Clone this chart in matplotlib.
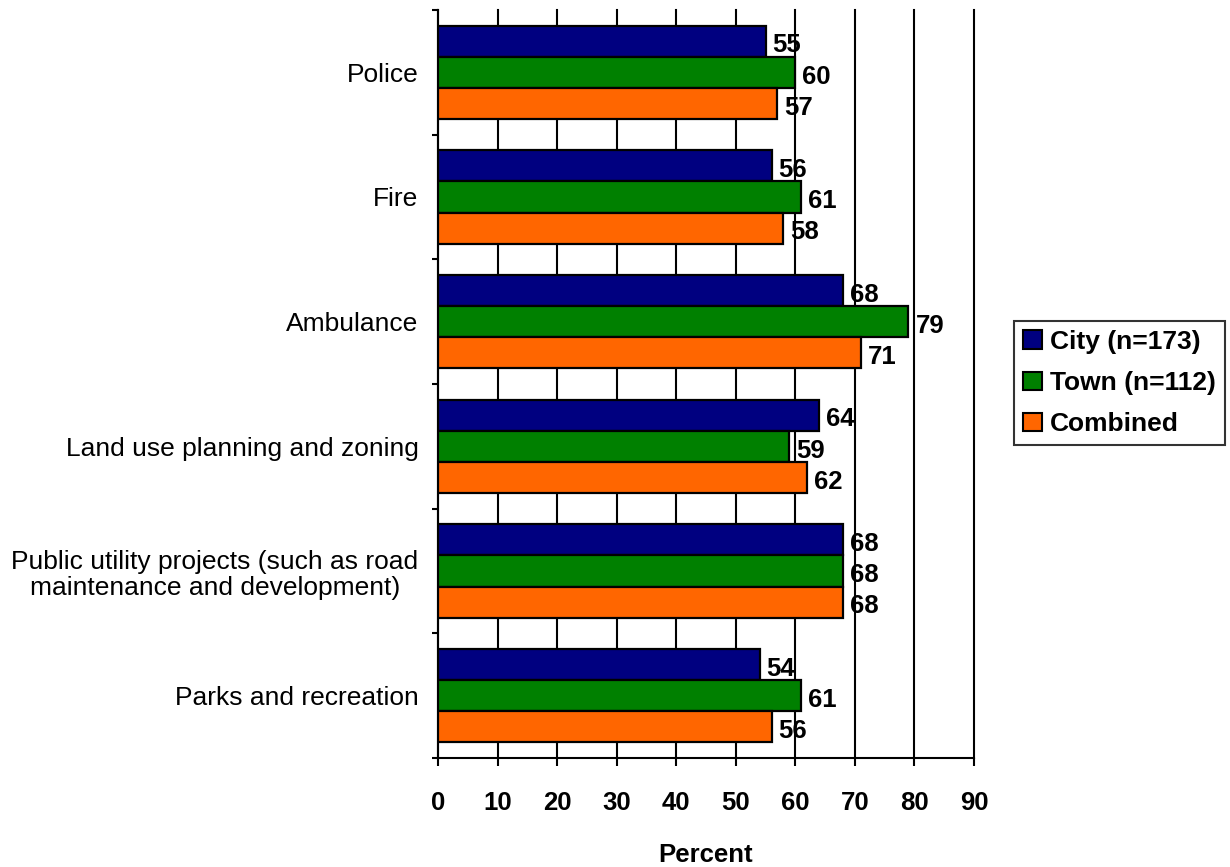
import numpy as np
import matplotlib.pyplot as plt
from matplotlib.ticker import FixedLocator

plt.rcParams['font.family'] = ['Liberation Sans', 'DejaVu Sans']

services = ["Police", "Fire", "Ambulance", "Land use planning and zoning",
            "Public utility projects (such as road\nmaintenance and development)",
            "Parks and recreation"]
city = [55, 56, 68, 64, 68, 54]
town = [60, 61, 79, 59, 68, 61]
combined = [57, 58, 71, 62, 68, 56]
series_names = ["City (n=173)", "Town (n=112)", "Combined"]
series_colors = ["#000080", "#008000", "#FF6600"]

fig = plt.figure(figsize=(12.3, 8.67), dpi=100)
ax = fig.add_axes([438 / 1230, 1 - 758 / 867, (974 - 438) / 1230, (758 - 10) / 867])

n = len(services)
centers = n - np.arange(n) - 0.5
h = 0.25
for k, (vals, name, col) in enumerate(zip([city, town, combined], series_names, series_colors)):
    ypos = centers + h * (1 - k)
    ax.barh(ypos, vals, height=h, color=col, edgecolor="black", linewidth=1.6,
            label=name, zorder=3)
    for y, v in zip(ypos, vals):
        ax.annotate(str(v), (v, y), xytext=(5, -3), textcoords="offset points",
                    ha="left", va="center", fontsize=18.5, fontweight="bold", zorder=4)

ax.set_xlim(0, 90)
ax.set_ylim(0, n)
ax.set_xticks(np.arange(0, 91, 10))
ax.xaxis.grid(True, color="black", linewidth=1.5, zorder=0)
for gl in ax.get_xgridlines():
    gl.set_clip_on(False)
ax.set_axisbelow(True)

ax.set_yticks(centers)
ax.set_yticklabels(services, fontsize=19, multialignment="center", linespacing=1.15)
ax.tick_params(axis="y", length=0, pad=14)
ax.yaxis.set_minor_locator(FixedLocator(np.arange(0, n + 1)))
ax.tick_params(axis="y", which="minor", length=4.5, width=1.5, direction="out")

ax.tick_params(axis="x", length=6, width=1.5, direction="out", pad=18, labelsize=18.5)
for t in ax.get_xticklabels():
    t.set_fontweight("bold")

for side in ["top", "right"]:
    ax.spines[side].set_visible(False)
for side in ["left", "bottom"]:
    ax.spines[side].set_linewidth(1.5)

ax.set_xlabel("Percent", fontsize=18.5, fontweight="bold", labelpad=20)

leg = fig.legend(loc="center left", bbox_to_anchor=(1014 / 1230, 1 - 383 / 867),
                 prop={"weight": "bold", "size": 19}, frameon=True, fancybox=False,
                 edgecolor="black", handlelength=0.7, handleheight=0.7,
                 handletextpad=0.3, borderpad=0.35, labelspacing=0.65,
                 borderaxespad=0)
leg.get_frame().set_linewidth(1.5)
for p in leg.get_patches():
    p.set_linewidth(1.5)

fig.savefig("out.png", dpi=100)
